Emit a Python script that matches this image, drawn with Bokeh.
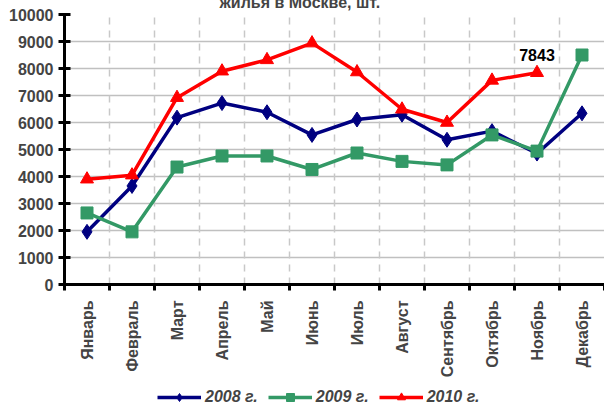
import math
from bokeh.plotting import figure
from bokeh.layouts import column
from bokeh.models import (Range1d, LinearAxis, FixedTicker, Grid, Legend, LegendItem)
from bokeh.core.properties import value
from bokeh.embed import file_html
from bokeh.resources import INLINE

months = ["Январь", "Февраль", "Март", "Апрель", "Май", "Июнь", "Июль",
          "Август", "Сентябрь", "Октябрь", "Ноябрь", "Декабрь"]
s2008 = [1950, 3650, 6180, 6720, 6380, 5540, 6110, 6290, 5360, 5680, 4850, 6340]
s2009 = [2650, 1950, 4350, 4760, 4760, 4260, 4870, 4560, 4430, 5540, 4940, 8500]
s2010 = [3900, 4050, 6920, 7900, 8320, 8940, 7870, 6490, 6000, 7560, 7843]
series_names = ["2008 г.", "2009 г.", "2010 г."]
y_ticks = list(range(0, 10001, 1000))
title_text = "жилья в Москве, шт."

FONT = "Liberation Sans"
NAVY = "#000080"
GREEN = "#339966"
RED = "#ff0000"
xs = [i + 0.5 for i in range(len(months))]
bounds = list(range(len(months) + 1))

p = figure(width=604, height=398, output_backend="svg", toolbar_location=None,
           x_range=Range1d(0, 12), y_range=Range1d(0, 10000),
           x_axis_location=None, min_border_left=64, min_border_right=0,
           min_border_top=32, min_border_bottom=95)
p.outline_line_color = None
p.background_fill_color = "white"

# partially cut title (top cut by window edge)
p.title.text = title_text
p.title.align = "left"
p.title.offset = 155
p.title.standoff = 8
p.title.text_font = FONT
p.title.text_font_style = "bold"
p.title.text_font_size = "16px"

# y axis
ya = p.yaxis[0]
ya.ticker = FixedTicker(ticks=y_ticks)
ya.axis_line_width = 3
ya.axis_line_color = "black"
ya.major_tick_in = 6
ya.major_tick_out = 6
ya.major_tick_line_width = 3
ya.minor_tick_line_color = None
ya.major_label_text_font = FONT
ya.major_label_text_font_style = "bold"
ya.major_label_text_font_size = "16px"
ya.major_label_standoff = 5
p.ygrid.ticker = FixedTicker(ticks=y_ticks[1:])
p.ygrid.grid_line_color = "#c0c0c0"
p.ygrid.grid_line_width = 1.5
p.xgrid.visible = False

# vertical dashed grid at category boundaries
vgrid = Grid(dimension=0, ticker=FixedTicker(ticks=bounds[1:]),
             grid_line_color="#c8c8c8", grid_line_width=1.5, grid_line_dash="7 6")
p.add_layout(vgrid)

# x axis: labels at centres, tick marks (minor) at boundaries
xa = LinearAxis(ticker=FixedTicker(ticks=xs, minor_ticks=bounds),
                major_label_overrides={x: m for x, m in zip(xs, months)},
                axis_line_width=3, axis_line_color="black",
                major_tick_line_color=None, major_tick_in=0, major_tick_out=0,
                minor_tick_in=0, minor_tick_out=6, minor_tick_line_width=3,
                minor_tick_line_color="black",
                major_label_orientation=math.pi / 2,
                major_label_text_font=FONT, major_label_text_font_style="bold",
                major_label_text_font_size="16px", major_label_standoff=10)
p.add_layout(xa, "below")

l1 = p.line(xs, s2008, line_color=NAVY, line_width=3.5)
m1 = p.scatter(xs, s2008, marker="diamond", size=15, fill_color=NAVY, line_color=NAVY)
l2 = p.line(xs, s2009, line_color=GREEN, line_width=3.5)
m2 = p.scatter(xs, s2009, marker="square", size=12, fill_color=GREEN, line_color=GREEN)
l3 = p.line(xs[:len(s2010)], s2010, line_color=RED, line_width=3.5)
m3 = p.scatter(xs[:len(s2010)], s2010, marker="triangle", size=13, fill_color=RED, line_color=RED)

# data label for last 2010 point
p.text(x=[xs[len(s2010) - 1]], y=[s2010[-1]], text=[str(s2010[-1])],
       x_offset=0, y_offset=-18, text_align="center", text_baseline="alphabetic",
       text_font=value(FONT), text_font_style="bold", text_font_size="16px",
       text_color="black")

# legend in a strip below the chart (series drawn out of its visible range)
lf = figure(width=604, height=29, output_backend="svg", toolbar_location=None,
            x_range=Range1d(0, 12), y_range=Range1d(-2, -1),
            x_axis_location=None, y_axis_location=None,
            min_border=0, min_border_left=64)
lf.outline_line_color = None
lf.xgrid.visible = False
lf.ygrid.visible = False
items = []
for name, data, color, marker, size in zip(series_names, [s2008, s2009, s2010],
                                           [NAVY, GREEN, RED],
                                           ["diamond", "square", "triangle"], [15, 12, 13]):
    xx = xs[:len(data)]
    rl = lf.line(xx, data, line_color=color, line_width=3.5)
    rm = lf.scatter(xx, data, marker=marker, size=size, fill_color=color, line_color=color)
    items.append(LegendItem(label=name, renderers=[rl, rm]))
legend = Legend(items=items, orientation="horizontal", location=(93, 2),
                padding=0, margin=0, spacing=10, glyph_width=44, glyph_height=20,
                label_standoff=4, border_line_color=None, background_fill_alpha=0,
                label_text_font=FONT, label_text_font_style="bold italic",
                label_text_font_size="16px")
lf.add_layout(legend)

layout = column(p, lf, spacing=0)
layout.styles = {"margin-top": "-18px"}

open("out.html", "w").write(file_html(layout, INLINE))
